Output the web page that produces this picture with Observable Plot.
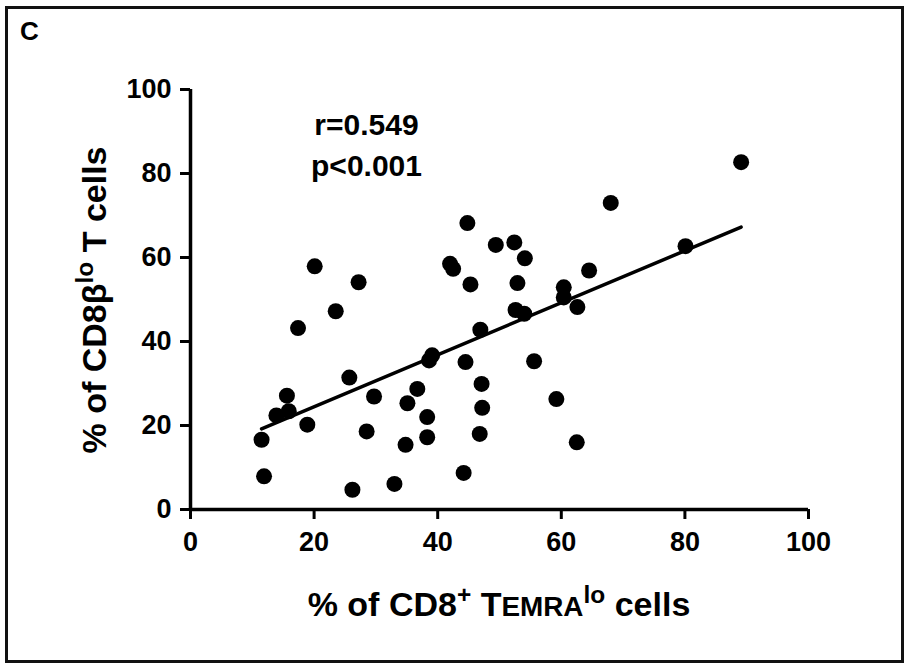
<!DOCTYPE html>
<html><head><meta charset="utf-8">
<script src="https://cdn.jsdelivr.net/npm/d3@7"></script>
<script src="https://cdn.jsdelivr.net/npm/@observablehq/plot@0.6"></script>
<style>
body{margin:0;background:#fff;}
#fig{position:relative;width:907px;height:664px;font-family:"Liberation Sans",Arial,Helvetica,sans-serif;font-weight:bold;color:#000;overflow:hidden;}
#fig svg{position:absolute;left:0;top:0;}
.frame{position:absolute;left:5px;top:6px;width:899px;height:657px;border:3px solid #111;box-sizing:border-box;pointer-events:none;}
.panel{position:absolute;left:20px;top:18px;font-size:26px;line-height:1;}
.xt{position:absolute;left:499px;top:604px;transform:translate(-50%,-50%);font-size:34px;white-space:nowrap;line-height:1;}
.yt{position:absolute;left:94px;top:300px;transform:translate(-50%,-50%) rotate(-90deg);font-size:34px;white-space:nowrap;line-height:1;}
sup{font-size:0.72em;vertical-align:0;position:relative;top:-0.55em;}
.sc{font-size:0.82em;}
</style>
</head><body>
<div id="fig">
  <div class="frame"></div>
  <div class="panel">C</div>
  <div class="xt">% of CD8<sup>+</sup> T<span class="sc">EMRA</span><sup>lo</sup> cells</div>
  <div class="yt">% of CD8β<sup>lo</sup> T cells</div>
</div>
<script>
// Data
const xValues = [20.1,27.2,23.5,17.4,25.7,29.7,15.6,13.9,15.9,18.9,11.5,28.5,11.9,26.2,33.0,36.7,35.1,34.8,38.3,38.3,
  89.1,68.0,44.8,49.4,52.4,54.1,42.0,42.5,45.3,52.9,64.5,80.1,60.4,60.4,62.6,52.6,54.0,46.9,39.1,38.6,44.5,55.6,47.1,47.2,46.8,59.2,62.5,44.2];
const yValues = [57.9,54.1,47.2,43.2,31.4,26.9,27.1,22.4,23.4,20.2,16.6,18.6,7.9,4.7,6.1,28.7,25.3,15.4,22.0,17.2,
  82.7,73.0,68.2,63.0,63.6,59.8,58.5,57.3,53.6,53.9,56.9,62.7,52.9,50.5,48.2,47.5,46.6,42.8,36.7,35.5,35.1,35.3,29.9,24.2,18.0,26.3,16.0,8.7];
const xTicks = [0,20,40,60,80,100];
const yTicks = [0,20,40,60,80,100];
const statLabels = ["r=0.549","p<0.001"];

const points = xValues.map((x,i)=>({x, y:yValues[i]}));
const font = '"Liberation Sans", Arial, Helvetica, sans-serif';

const plot = Plot.plot({
  width:907, height:664,
  marginLeft:190, marginRight:99, marginTop:89, marginBottom:155,
  style:{fontFamily:font, background:"transparent", color:"#000"},
  x:{domain:[0,100]},
  y:{domain:[0,100]},
  marks:[
    Plot.axisX({ticks:xTicks, tickSize:10, tickPadding:12, fontSize:27, fontWeight:"bold", strokeWidth:3, label:null}),
    Plot.axisY({ticks:yTicks, tickSize:10, tickPadding:9, fontSize:27, fontWeight:"bold", strokeWidth:3, label:null}),
    Plot.ruleY([0], {strokeWidth:3.5}),
    Plot.ruleX([0], {strokeWidth:3.5}),
    Plot.linearRegressionY(points, {x:"x", y:"y", ci:0, stroke:"#000", strokeWidth:3.5}),
    Plot.dot(points, {x:"x", y:"y", r:8, fill:"#000", stroke:"none"}),
    Plot.text([statLabels.join("\n")], {frameAnchor:"top-left", dx:176, dy:16, lineAnchor:"top", textAnchor:"middle", lineHeight:1.37, fontSize:30, fontWeight:"bold", fill:"#000"})
  ]
});
document.getElementById("fig").prepend(plot);
</script>
</body></html>
